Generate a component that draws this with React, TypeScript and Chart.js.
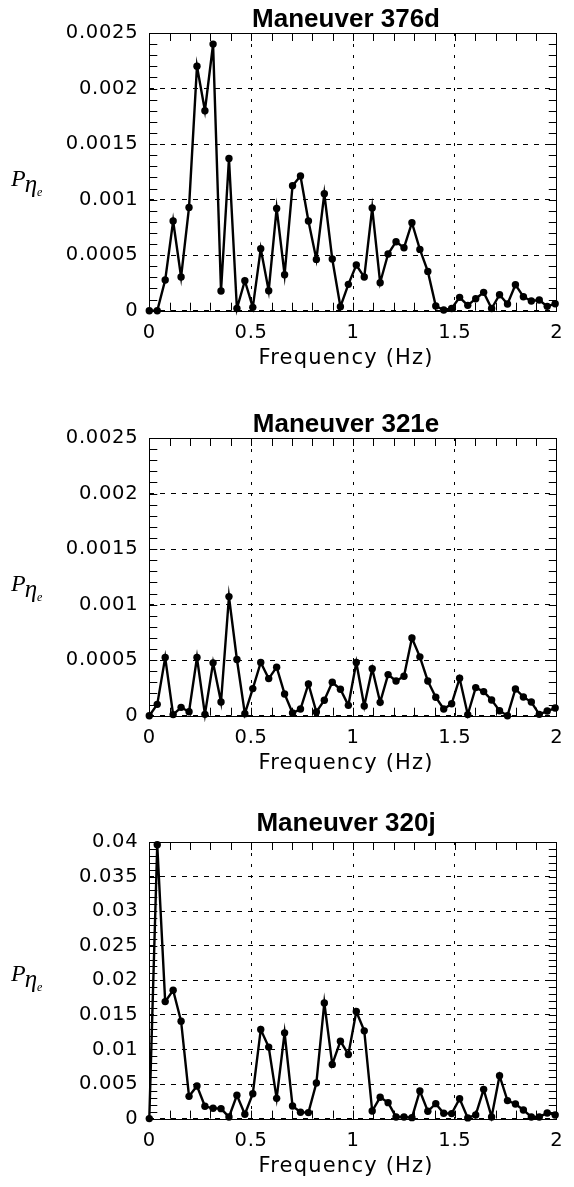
import React, { useEffect, useRef } from 'react';
import { Chart, registerables } from 'chart.js';

Chart.register(...registerables);

// Spectral frequency bins (Hz)
const frequencyHz = [
  0, 0.039, 0.078, 0.117, 0.156, 0.195, 0.234, 0.273, 0.313, 0.352,
  0.391, 0.43, 0.469, 0.508, 0.547, 0.586, 0.625, 0.664, 0.703, 0.742,
  0.781, 0.82, 0.859, 0.898, 0.938, 0.977, 1.016, 1.055, 1.094, 1.133,
  1.172, 1.211, 1.25, 1.289, 1.328, 1.367, 1.406, 1.445, 1.484, 1.523,
  1.563, 1.602, 1.641, 1.68, 1.719, 1.758, 1.797, 1.836, 1.875, 1.914,
  1.953, 1.992,
];

// Power spectral density of eta_e for each maneuver
const power376d = [
  0, 0, 0.000276, 0.000807, 0.000303, 0.00093, 0.0022, 0.0018, 0.0024, 0.000177,
  0.00137, 0.00002, 0.00027, 0.00003, 0.000558, 0.00018, 0.00092, 0.000324, 0.001125, 0.001212,
  0.000807, 0.000462, 0.001053, 0.000465, 0.000036, 0.000237, 0.000411, 0.000303, 0.000924, 0.000252,
  0.00051, 0.000621, 0.000567, 0.000792, 0.000552, 0.000354, 0.000042, 0.000006, 0.00002, 0.00012,
  0.000048, 0.000108, 0.000165, 0.00002, 0.000144, 0.00006, 0.000234, 0.000126, 0.000087, 0.000096,
  0.000039, 0.000063,
];

const power321e = [
  0, 0.000102, 0.000524, 0.00001, 0.000075, 0.000036, 0.000524, 0.000012, 0.000476, 0.000123,
  0.001072, 0.000506, 0.000018, 0.000244, 0.000479, 0.000334, 0.000437, 0.000196, 0.000024, 0.00006,
  0.000286, 0.000033, 0.000139, 0.000301, 0.000238, 0.000093, 0.000479, 0.000087, 0.000422, 0.00012,
  0.00037, 0.000313, 0.000355, 0.000699, 0.00053, 0.000313, 0.000166, 0.00006, 0.000108, 0.000337,
  0.00001, 0.000253, 0.000217, 0.000142, 0.000045, 0, 0.000241, 0.000169, 0.000123, 0.000012,
  0.000042, 0.000069,
];

const power320j = [
  0, 0.0396, 0.01692, 0.01856, 0.01409, 0.00322, 0.00471, 0.00178, 0.00149, 0.00144,
  0.00024, 0.00337, 0.000625, 0.0036, 0.01288, 0.01034, 0.00293, 0.0124, 0.00183, 0.00091,
  0.00087, 0.00514, 0.01673, 0.00784, 0.0112, 0.00928, 0.01548, 0.01269, 0.0011, 0.00308,
  0.00231, 0.00024, 0.00024, 0.00014, 0.00399, 0.00106, 0.00216, 0.00077, 0.00072, 0.00288,
  0.0001, 0.00053, 0.00423, 0.00024, 0.0062, 0.0026, 0.00212, 0.00125, 0.00024, 0.00024,
  0.00082, 0.00053,
];

const panelTitles = ['Maneuver 376d', 'Maneuver 321e', 'Maneuver 320j'];

const xTickValues = [0, 0.5, 1, 1.5, 2];
const xTickLabels = ['0', '0.5', '1', '1.5', '2'];

const yTickValuesSmall = [0, 0.0005, 0.001, 0.0015, 0.002, 0.0025];
const yTickLabelsSmall = ['0', '0.0005', '0.001', '0.0015', '0.002', '0.0025'];

const yTickValuesLarge = [0, 0.005, 0.01, 0.015, 0.02, 0.025, 0.03, 0.035, 0.04];
const yTickLabelsLarge = ['0', '0.005', '0.01', '0.015', '0.02', '0.025', '0.03', '0.035', '0.04'];

const xAxisTitle = 'Frequency (Hz)';

type Panel = {
  title: string;
  values: number[];
  yTicks: number[];
  yLabels: string[];
  yMinorStep: number;
  canvasTop: number;
  canvasHeight: number;
  plotHeight: number;
  titleGap: number;
  labelDrop: number;
};

const panels: Panel[] = [
  {
    title: panelTitles[0], values: power376d, yTicks: yTickValuesSmall, yLabels: yTickLabelsSmall,
    yMinorStep: 0.0001, canvasTop: 0, canvasHeight: 400, plotHeight: 277.7, titleGap: 6, labelDrop: 153,
  },
  {
    title: panelTitles[1], values: power321e, yTicks: yTickValuesSmall, yLabels: yTickLabelsSmall,
    yMinorStep: 0.0001, canvasTop: 405, canvasHeight: 400, plotHeight: 277.7, titleGap: 6, labelDrop: 153,
  },
  {
    title: panelTitles[2], values: power320j, yTicks: yTickValuesLarge, yLabels: yTickLabelsLarge,
    yMinorStep: 0.001, canvasTop: 809, canvasHeight: 378, plotHeight: 276.6, titleGap: 11, labelDrop: 139,
  },
];

const WIDTH = 574;
const PLOT_TOP = 33;
const PLOT_LEFT = 149.3;
const PLOT_RIGHT = 562.7;
const TICK_LEN = 8;
const TICK_FONT = { family: '"DejaVu Sans", sans-serif', size: 19.5 };

function framePlugin(panel: Panel) {
  return {
    id: 'frameAndTicks',
    beforeDraw(chart: any) {
      // slightly wider lettering for the axis numbers
      chart.ctx.letterSpacing = '0.7px';
    },
    beforeDatasetsDraw(chart: any) {
      const { ctx, chartArea: a, scales } = chart;
      const xs = scales.x;
      const ys = scales.y;
      ctx.save();
      ctx.letterSpacing = '0px';
      ctx.strokeStyle = '#000';
      ctx.lineWidth = 1;
      ctx.setLineDash([]);
      ctx.beginPath();
      // minor ticks along x, inward from top and bottom
      for (let i = 1; i < 20; i++) {
        const px = Math.round(xs.getPixelForValue(i * 0.1)) + 0.5;
        ctx.moveTo(px, a.bottom);
        ctx.lineTo(px, a.bottom - TICK_LEN);
        ctx.moveTo(px, a.top);
        ctx.lineTo(px, a.top + TICK_LEN);
      }
      // minor ticks along y, inward from left and right
      const yMax = panel.yTicks[panel.yTicks.length - 1];
      const n = Math.round(yMax / panel.yMinorStep);
      for (let i = 1; i < n; i++) {
        const py = Math.round(ys.getPixelForValue(i * panel.yMinorStep)) + 0.5;
        ctx.moveTo(a.left, py);
        ctx.lineTo(a.left + TICK_LEN, py);
        ctx.moveTo(a.right, py);
        ctx.lineTo(a.right - TICK_LEN, py);
      }
      ctx.stroke();
      ctx.strokeRect(Math.round(a.left) + 0.5, Math.round(a.top) + 0.5,
        Math.round(a.right - a.left), Math.round(a.bottom - a.top));
      ctx.restore();
    },
    afterDraw(chart: any) {
      const { ctx, chartArea: a } = chart;
      ctx.save();
      ctx.letterSpacing = '0px';
      ctx.fillStyle = '#000';
      const cx = (a.left + a.right) / 2 - 7;
      // panel title
      ctx.font = 'bold 26px "Liberation Sans", Arial, sans-serif';
      ctx.textAlign = 'center';
      ctx.textBaseline = 'alphabetic';
      ctx.fillText(panel.title, cx, a.top - panel.titleGap);
      // x axis title
      ctx.letterSpacing = '1.2px';
      ctx.font = '21px "DejaVu Sans", sans-serif';
      ctx.fillText(xAxisTitle, cx, a.bottom + 53);
      ctx.letterSpacing = '0px';
      // y axis title: P with subscript eta_e
      const by = a.top + panel.labelDrop;
      ctx.textAlign = 'left';
      ctx.font = 'italic 24px "Liberation Serif", serif';
      ctx.fillText('P', 11, by);
      let x = 11 + ctx.measureText('P').width - 1;
      ctx.font = 'italic 25px "Liberation Serif", serif';
      ctx.fillText('η', x, by + 6);
      x += ctx.measureText('η').width;
      ctx.font = 'italic 12px "Liberation Serif", serif';
      ctx.fillText('e', x, by + 10);
      ctx.restore();
    },
  };
}

function PanelChart({ panel }: { panel: Panel }) {
  const ref = useRef<HTMLCanvasElement | null>(null);

  useEffect(() => {
    const canvas = ref.current;
    if (!canvas) return;
    const points = frequencyHz.map((f, i) => ({ x: f, y: panel.values[i] }));
    const yMax = panel.yTicks[panel.yTicks.length - 1];
    const xAxisHeight = panel.canvasHeight - PLOT_TOP - panel.plotHeight;

    const chart = new Chart(canvas, {
      type: 'line',
      data: {
        datasets: [
          {
            data: points,
            borderColor: '#000',
            borderWidth: 2.4,
            pointRadius: 3.7,
            pointBackgroundColor: '#000',
            pointBorderColor: '#000',
            pointBorderWidth: 0,
            tension: 0,
            clip: false as any,
          },
        ],
      },
      options: {
        animation: false,
        responsive: false,
        events: [],
        layout: { padding: { top: PLOT_TOP, right: WIDTH - PLOT_RIGHT, left: 0, bottom: 0 } },
        plugins: { legend: { display: false }, tooltip: { enabled: false }, title: { display: false } },
        scales: {
          x: {
            type: 'linear',
            min: 0,
            max: 2,
            afterBuildTicks: (s: any) => { s.ticks = xTickValues.map((v) => ({ value: v })); },
            afterFit: (s: any) => { s.height = xAxisHeight; },
            ticks: {
              color: '#000',
              padding: 11,
              maxRotation: 0,
              autoSkip: false,
              font: TICK_FONT,
              callback: (_v: any, i: number) => xTickLabels[i],
            },
            grid: { color: '#000', lineWidth: 1, drawTicks: false },
            border: { display: false, dash: [3, 8] },
          },
          y: {
            type: 'linear',
            min: 0,
            max: yMax,
            afterBuildTicks: (s: any) => { s.ticks = panel.yTicks.map((v) => ({ value: v })); },
            afterFit: (s: any) => { s.width = PLOT_LEFT; },
            ticks: {
              color: '#000',
              padding: 11,
              autoSkip: false,
              font: TICK_FONT,
              callback: (_v: any, i: number) => panel.yLabels[i],
            },
            grid: { color: '#000', lineWidth: 1, drawTicks: false },
            border: { display: false, dash: [5, 6] },
          },
        },
      },
      plugins: [framePlugin(panel)],
    });
    return () => chart.destroy();
  }, [panel]);

  return (
    <canvas
      ref={ref}
      width={WIDTH}
      height={panel.canvasHeight}
      style={{ position: 'absolute', left: 0, top: panel.canvasTop, width: WIDTH, height: panel.canvasHeight }}
    />
  );
}

export default function App() {
  return (
    <div style={{ position: 'absolute', left: 0, top: 0, width: WIDTH, height: 1187, background: '#fff' }}>
      {panels.map((p) => (
        <PanelChart key={p.title} panel={p} />
      ))}
    </div>
  );
}
